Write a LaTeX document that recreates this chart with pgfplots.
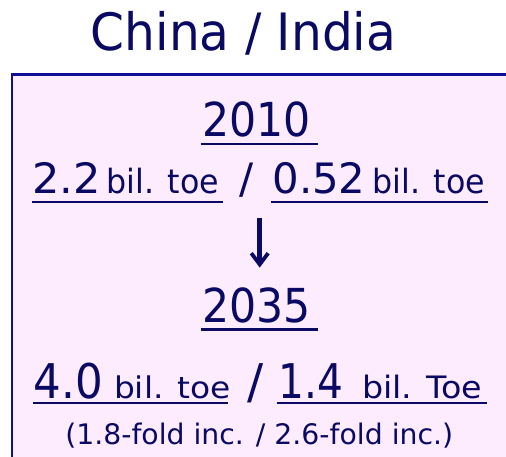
\documentclass[border=0pt]{standalone}
\usepackage{pgfplots}
\pgfplotsset{compat=1.18}
\usepackage{fontspec}
\setmainfont{DejaVu Sans}
\definecolor{navy}{RGB}{10,10,100}
\definecolor{boxblue}{RGB}{15,15,150}
\definecolor{boxfill}{RGB}{253,236,253}
\newcommand{\fs}[1]{\fontsize{#1}{#1}\selectfont\color{navy}}
\begin{document}
\begin{tikzpicture}
\begin{axis}[
  width=506bp, height=457bp, scale only axis,
  xmin=0, xmax=506, ymin=0, ymax=457, y dir=reverse,
  hide axis, clip=true,
]
% box
\addplot[draw=boxblue, line width=2.6bp, fill=boxfill] coordinates {(12,480) (12,74.3) (530,74.3) (530,480) (12,480)};
% underlines
\addplot[navy, line width=2.6bp] coordinates {(200.7,143.8) (317.7,143.8)};
\addplot[navy, line width=2.4bp] coordinates {(32.3,201.7) (222.7,201.7)};
\addplot[navy, line width=2.4bp] coordinates {(270.7,201.7) (487.7,201.7)};
\addplot[navy, line width=2.6bp] coordinates {(200.7,329.5) (317.7,329.5)};
\addplot[navy, line width=2.4bp] coordinates {(33.3,402.7) (228.3,402.7)};
\addplot[navy, line width=2.4bp] coordinates {(276.7,402.7) (487.3,402.7)};
% arrow
\addplot[navy, line width=5.5bp] coordinates {(259.7,217.7) (259.7,262)};
\addplot[navy, line width=3.8bp, line join=miter] coordinates {(251.3,253.2) (259.7,264.4) (268.1,253.2)};
% texts
\node[inner sep=0pt, anchor=base, xscale=0.944] at (axis cs:243.5,51) {\fs{51.7}China / India};
\node[inner sep=0pt, anchor=base, xscale=0.91] at (axis cs:256.5,136) {\fs{47}2010};
\node[inner sep=0pt, anchor=base west, xscale=1.03] at (axis cs:32.2,193.5) {\fs{42}2.2};
\node[inner sep=0pt, anchor=base west, xscale=0.95] at (axis cs:106.5,193.5) {\fs{33.5}bil. toe};
\node[inner sep=0pt, anchor=base] at (axis cs:246.5,193.5) {\fs{42}/};
\node[inner sep=0pt, anchor=base west] at (axis cs:272.2,193.5) {\fs{42}0.52};
\node[inner sep=0pt, anchor=base west, xscale=0.95] at (axis cs:372.3,193.5) {\fs{33.5}bil. toe};
\node[inner sep=0pt, anchor=base, xscale=0.91] at (axis cs:256.5,322.3) {\fs{47}2035};
\node[inner sep=0pt, anchor=base west, xscale=0.91] at (axis cs:33.5,398.3) {\fs{48}4.0};
\node[inner sep=0pt, anchor=base west, xscale=1.1] at (axis cs:113.8,398.3) {\fs{30}bil. toe};
\node[inner sep=0pt, anchor=base] at (axis cs:255.5,398.3) {\fs{48}/};
\node[inner sep=0pt, anchor=base west, xscale=0.85] at (axis cs:278.8,398.3) {\fs{48}1.4};
\node[inner sep=0pt, anchor=base west, xscale=1.08] at (axis cs:362,398.3) {\fs{31}bil. Toe};
\node[inner sep=0pt, anchor=base] at (axis cs:259.2,444) {\fs{28.4}(1.8-fold inc. / 2.6-fold inc.)};
\end{axis}
\pgfresetboundingbox
\path (current axis.south west) rectangle (current axis.north east);
\end{tikzpicture}
\end{document}
